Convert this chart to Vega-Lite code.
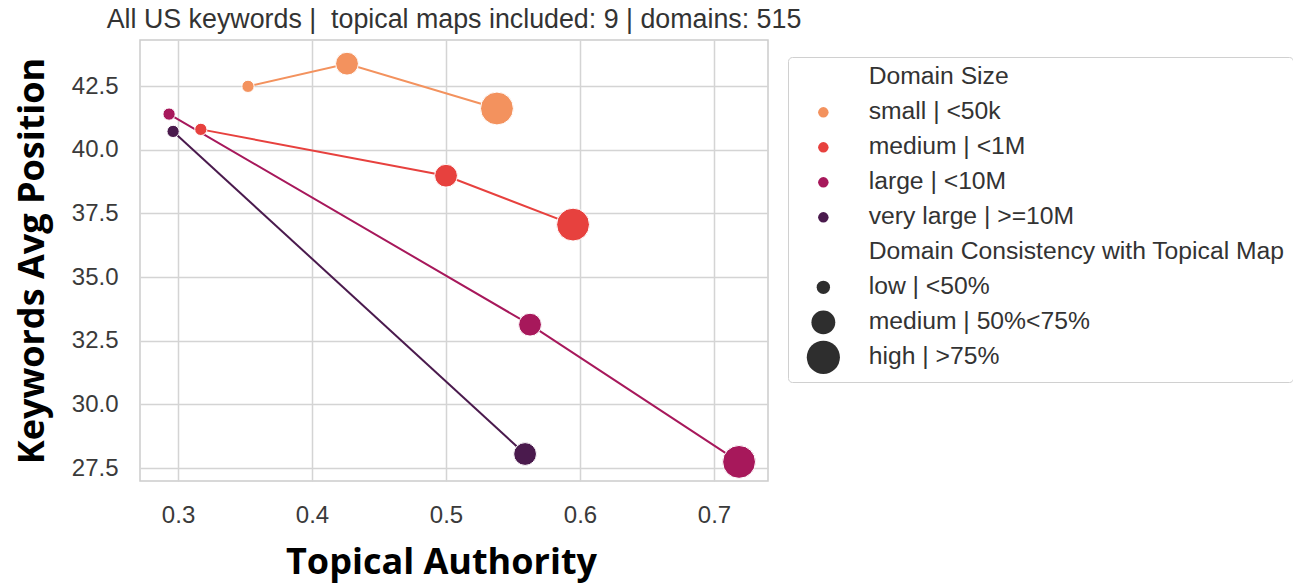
{
  "$schema": "https://vega.github.io/schema/vega-lite/v6.json",
  "autosize": "none",
  "width": 628,
  "height": 441,
  "padding": {"left": 140, "top": 40, "right": 525, "bottom": 104},
  "background": "white",
  "title": {
    "text": "All US keywords |\u00a0\u00a0topical maps included: 9 | domains: 515",
    "font": "Liberation Sans",
    "fontSize": 26.8,
    "fontWeight": "normal",
    "color": "#333333",
    "anchor": "middle",
    "offset": 6
  },
  "config": {
    "view": {"stroke": "#cccccc", "strokeWidth": 1.5},
    "axis": {
      "domain": false,
      "ticks": false,
      "grid": true,
      "gridColor": "#d4d4d4",
      "gridWidth": 1.5,
      "labelFont": "Liberation Sans",
      "labelFontSize": 24,
      "labelColor": "#3a3a3a",
      "titleFont": "Open Sans",
      "titleFontWeight": "bold",
      "titleColor": "#000000"
    }
  },
  "data": {
    "values": [
      {"ta": 0.3522, "pos": 42.49, "dsize": "small | <50k", "cons": "low | <50%"},
      {"ta": 0.4261, "pos": 43.38, "dsize": "small | <50k", "cons": "medium | 50%<75%"},
      {"ta": 0.538, "pos": 41.62, "dsize": "small | <50k", "cons": "high | >75%"},
      {"ta": 0.317, "pos": 40.8, "dsize": "medium | <1M", "cons": "low | <50%"},
      {"ta": 0.5, "pos": 38.98, "dsize": "medium | <1M", "cons": "medium | 50%<75%"},
      {"ta": 0.5948, "pos": 37.06, "dsize": "medium | <1M", "cons": "high | >75%"},
      {"ta": 0.2933, "pos": 41.4, "dsize": "large | <10M", "cons": "low | <50%"},
      {"ta": 0.5627, "pos": 33.13, "dsize": "large | <10M", "cons": "medium | 50%<75%"},
      {"ta": 0.7187, "pos": 27.74, "dsize": "large | <10M", "cons": "high | >75%"},
      {"ta": 0.2963, "pos": 40.72, "dsize": "very large | >=10M", "cons": "low | <50%"},
      {"ta": 0.559, "pos": 28.05, "dsize": "very large | >=10M", "cons": "medium | 50%<75%"}
    ]
  },
  "encoding": {
    "x": {
      "field": "ta",
      "type": "quantitative",
      "scale": {"domain": [0.2716, 0.7403], "nice": false, "zero": false},
      "axis": {
        "values": [0.3, 0.4, 0.5, 0.6, 0.7],
        "format": ".1f",
        "labelPadding": 22,
        "title": "Topical Authority",
        "titleFontSize": 36,
        "titlePadding": 18,
        "titleX": 301
      }
    },
    "y": {
      "field": "pos",
      "type": "quantitative",
      "scale": {"domain": [26.99, 44.31], "nice": false, "zero": false},
      "axis": {
        "values": [27.5, 30, 32.5, 35, 37.5, 40, 42.5],
        "format": ".1f",
        "labelPadding": 22,
        "title": "Keywords Avg Position",
        "titleFontSize": 36,
        "titlePadding": 20
      }
    },
    "color": {
      "field": "dsize",
      "type": "nominal",
      "scale": {
        "domain": ["Domain Size", "small | <50k", "medium | <1M", "large | <10M", "very large | >=10M", "Domain Consistency with Topical Map", "low | <50%", "medium | 50%<75%", "high | >75%"],
        "range": ["transparent", "#f3925e", "#e7413e", "#a7185b", "#4a1a4d", "transparent", "#2e2e2e", "#2e2e2e", "#2e2e2e"]
      },
      "legend": {
        "title": null,
        "orient": "none",
        "legendX": 648,
        "legendY": 17,
        "direction": "vertical",
        "symbolType": "circle",
        "symbolOffset": 15,
        "symbolStrokeWidth": 0,
        "labelFont": "Liberation Sans",
        "labelFontSize": 24.7,
        "labelColor": "#333333",
        "labelOffset": 33,
        "labelLimit": 600,
        "gridAlign": "all",
        "rowPadding": 1,
        "padding": 8,
        "strokeColor": "#d0d0d0",
        "fillColor": "white",
        "cornerRadius": 4,
        "encode": {
          "symbols": {
            "update": {
              "size": {"signal": "datum.value === 'high | >75%' ? 1100 : datum.value === 'medium | 50%<75%' ? 570 : datum.value === 'low | <50%' ? 180 : (datum.value === 'Domain Size' || datum.value === 'Domain Consistency with Topical Map') ? 0 : 110"},
              "fill": {"scale": "color", "field": "value"},
              "strokeWidth": {"value": 0},
              "opacity": {"value": 1}
            }
          }
        }
      }
    }
  },
  "layer": [
    {
      "mark": {"type": "line", "strokeWidth": 2},
      "encoding": {
        "order": {"field": "ta", "type": "quantitative"}
      }
    },
    {
      "mark": {"type": "point", "filled": true, "opacity": 1, "stroke": "white", "strokeWidth": 1},
      "encoding": {
        "size": {
          "field": "cons",
          "type": "ordinal",
          "scale": {"type": "ordinal", "domain": ["low | <50%", "medium | 50%<75%", "high | >75%"], "range": [150, 520, 1080]},
          "legend": null
        }
      }
    }
  ]
}
